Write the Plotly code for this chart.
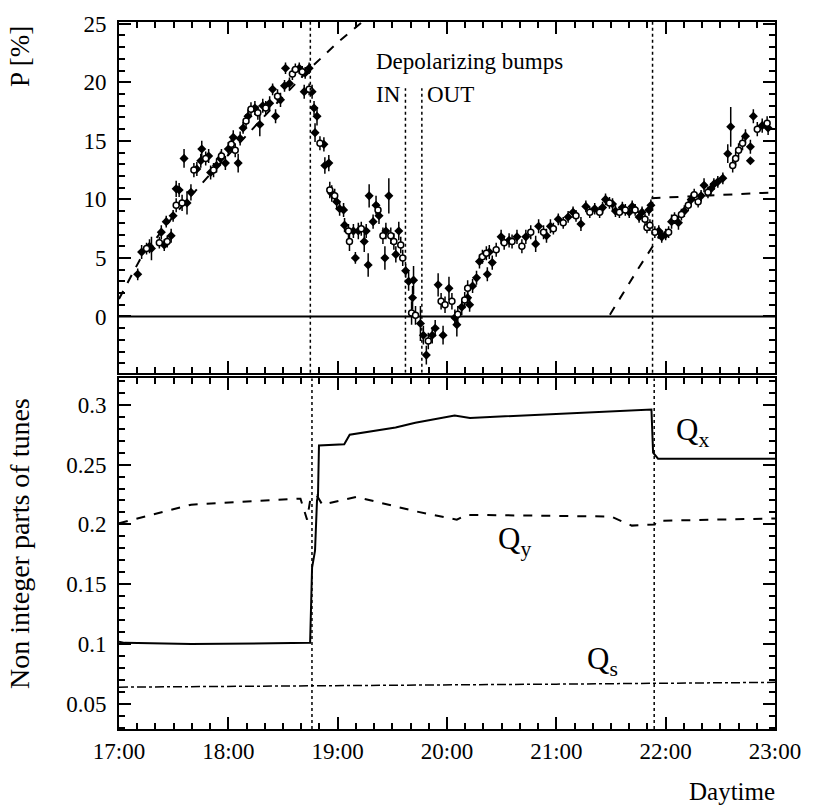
import plotly.graph_objects as go

# ---------------- data ----------------
# Polarization measurements: (daytime in hours, P [%], error)
p_filled = [
    (17.171, 3.6, 0.5), (17.207, 5.5, 0.6), (17.279, 6.0, 0.6), (17.297, 5.8, 1.0),
    (17.387, 7.2, 0.6), (17.414, 6.1, 0.5), (17.477, 6.9, 0.6), (17.432, 8.1, 0.5),
    (17.495, 8.6, 0.5), (17.523, 10.9, 0.7), (17.550, 10.8, 0.6), (17.595, 13.5, 0.8),
    (17.622, 9.7, 1.0), (17.658, 10.6, 0.7), (17.712, 12.6, 0.6), (17.748, 13.3, 0.6),
    (17.757, 14.3, 0.7), (17.820, 13.7, 0.6), (17.838, 12.3, 0.6), (17.892, 12.9, 0.6),
    (17.928, 13.5, 0.6), (17.973, 13.1, 0.6), (18.000, 14.3, 0.6), (18.045, 15.3, 0.6),
    (18.090, 13.1, 0.8), (18.108, 15.2, 0.6), (18.135, 16.1, 0.5), (18.180, 17.1, 0.6),
    (18.243, 17.8, 0.6), (18.288, 16.4, 1.0), (18.315, 18.0, 0.6), (18.378, 18.2, 0.6),
    (18.405, 19.4, 0.5), (18.432, 17.1, 0.6), (18.477, 18.5, 0.6), (18.514, 19.7, 0.5),
    (18.523, 21.2, 0.5), (18.559, 19.9, 0.5), (18.649, 21.2, 0.5), (18.703, 20.8, 0.5),
    (18.739, 21.2, 0.5), (18.694, 19.2, 0.6), (18.766, 19.2, 0.6), (18.784, 17.8, 0.6),
    (18.811, 17.1, 0.8), (18.793, 15.7, 0.8), (18.874, 14.7, 0.6), (18.883, 12.9, 0.7),
    (18.919, 13.1, 0.7), (18.946, 10.5, 0.7), (18.991, 9.8, 0.6), (19.018, 9.2, 0.6),
    (19.054, 9.1, 0.6), (19.063, 7.8, 0.6), (19.144, 7.3, 0.6), (19.162, 5.0, 0.5),
    (19.189, 7.3, 0.7), (19.243, 6.4, 0.9), (19.279, 4.4, 1.0), (19.261, 7.3, 0.6),
    (19.288, 10.3, 1.0), (19.324, 8.1, 0.6), (19.351, 9.5, 0.8), (19.378, 8.6, 0.7),
    (19.432, 5.0, 1.0), (19.441, 7.3, 0.7), (19.468, 10.3, 1.5), (19.532, 5.3, 0.7),
    (19.559, 7.3, 0.8), (19.622, 3.9, 0.6), (19.649, 3.0, 0.8), (19.694, 3.1, 1.2),
    (19.685, 1.6, 1.0), (19.757, -0.6, 1.5), (19.784, -1.6, 0.8), (19.811, -3.3, 0.8),
    (19.865, -1.6, 0.7), (19.892, -1.0, 0.7), (19.919, 2.7, 1.0), (19.964, -1.6, 0.8),
    (20.018, 2.4, 1.0), (20.072, -0.1, 0.7), (20.090, -0.7, 1.0), (20.135, 0.8, 0.7),
    (20.189, 1.6, 0.7), (20.207, 1.0, 0.6), (20.234, 2.6, 0.6), (20.270, 3.3, 0.6),
    (20.297, 4.7, 0.6), (20.369, 3.6, 0.6), (20.387, 5.5, 0.6), (20.414, 4.6, 0.6),
    (20.495, 6.8, 0.6), (20.568, 6.5, 0.6), (20.640, 6.8, 0.6), (20.721, 6.8, 0.6),
    (20.811, 6.2, 0.7), (20.838, 7.7, 0.6), (20.946, 7.7, 0.6), (20.910, 6.9, 0.6),
    (21.018, 8.3, 0.5), (21.108, 8.5, 0.5), (21.153, 8.9, 0.5), (21.225, 7.9, 0.6),
    (21.270, 9.4, 0.5), (21.351, 9.2, 0.5), (21.423, 9.3, 0.5), (21.450, 10.0, 0.5),
    (21.514, 9.6, 0.5), (21.541, 9.0, 0.5), (21.604, 9.3, 0.5), (21.667, 8.9, 0.5),
    (21.694, 9.4, 0.5), (21.757, 8.5, 0.5), (21.784, 8.9, 0.5), (21.847, 9.1, 0.5),
    (21.865, 9.5, 0.5), (21.937, 7.3, 0.5), (21.964, 6.8, 0.5), (22.000, 7.0, 0.5),
    (22.054, 8.1, 0.6), (22.117, 8.0, 0.6), (22.171, 9.0, 0.5), (22.234, 10.0, 0.5),
    (22.324, 10.3, 0.5), (22.351, 11.2, 0.6), (22.414, 10.9, 0.5), (22.441, 11.3, 0.5),
    (22.477, 11.5, 0.5), (22.523, 11.8, 0.5), (22.568, 13.9, 0.8), (22.595, 16.2, 1.7),
    (22.730, 15.4, 0.6), (22.775, 13.3, 0.0), (22.775, 14.5, 0.6), (22.802, 17.1, 0.6),
    (22.883, 16.3, 0.6), (22.937, 16.1, 0.6),
]
p_open = [
    (17.252, 5.8, 0.5), (17.369, 6.3, 0.5), (17.441, 6.4, 0.5), (17.523, 9.5, 0.6),
    (17.577, 9.7, 0.7), (17.685, 12.5, 0.6), (17.793, 13.5, 0.6), (17.865, 12.5, 0.6),
    (17.937, 13.7, 0.6), (18.027, 14.7, 0.6), (18.063, 14.2, 0.6), (18.162, 16.7, 0.6),
    (18.207, 17.7, 0.6), (18.270, 17.4, 0.6), (18.342, 17.8, 0.6), (18.450, 18.8, 0.6),
    (18.586, 20.7, 0.5), (18.613, 21.1, 0.5), (18.676, 20.9, 0.5), (18.739, 19.4, 0.5),
    (18.838, 14.8, 0.6), (18.928, 10.8, 0.7), (18.973, 10.3, 0.6), (19.099, 7.3, 0.6),
    (19.108, 6.4, 0.8), (19.216, 7.5, 0.6), (19.369, 9.1, 0.6), (19.414, 6.9, 0.7),
    (19.486, 6.9, 0.7), (19.514, 6.4, 0.7), (19.577, 6.1, 0.7), (19.595, 5.0, 0.7),
    (19.676, 0.3, 1.0), (19.712, 0.1, 0.8), (19.829, -2.1, 0.7), (19.946, 1.3, 0.7),
    (19.982, 1.0, 0.7), (20.045, 1.3, 0.7), (20.099, 0.2, 0.7), (20.162, 1.4, 0.7),
    (20.189, 2.4, 0.7), (20.324, 5.1, 0.6), (20.360, 5.4, 0.6), (20.450, 5.7, 0.6),
    (20.523, 6.3, 0.6), (20.595, 6.4, 0.6), (20.685, 6.0, 0.6), (20.766, 7.2, 0.6),
    (20.883, 7.2, 0.6), (20.973, 7.5, 0.5), (21.063, 8.0, 0.5), (21.180, 8.6, 0.5),
    (21.306, 8.9, 0.5), (21.396, 8.9, 0.5), (21.486, 9.7, 0.5), (21.577, 8.9, 0.5),
    (21.631, 9.1, 0.5), (21.721, 9.1, 0.5), (21.811, 8.3, 0.5), (21.829, 7.6, 0.5),
    (21.856, 7.8, 0.5), (21.901, 7.2, 0.5), (22.027, 7.2, 0.5), (22.081, 8.4, 0.5),
    (22.144, 8.7, 0.5), (22.207, 9.5, 0.5), (22.261, 10.4, 0.5), (22.297, 9.8, 0.5),
    (22.387, 10.6, 0.5), (22.613, 12.9, 0.6), (22.640, 13.5, 0.6), (22.667, 14.2, 0.6),
    (22.703, 14.8, 0.6), (22.838, 16.0, 0.6), (22.928, 16.5, 0.6),
]

# Fitted build-up curves (dashed)
fit1_t = [17.0, 17.2, 17.5, 17.8, 18.1, 18.4, 18.75, 19.0, 19.23]
fit1_p = [1.5, 5.0, 8.6, 11.8, 14.8, 17.8, 21.2, 23.4, 25.2]
fit2_t = [21.49, 21.75, 21.98]
fit2_p = [0.15, 4.1, 7.4]
fit3_t = [21.87, 22.2, 22.5, 22.75, 23.0]
fit3_p = [10.1, 10.25, 10.4, 10.5, 10.6]
zero_t = [17.0, 23.0]
zero_p = [0.0, 0.0]

# Tunes
qx_t = [17.0, 17.05, 17.66, 18.748, 18.766, 18.793, 18.811, 18.82, 18.829, 19.06, 19.11,
        19.53, 19.71, 20.07, 20.21, 21.87, 21.885, 21.93, 23.0]
qx_v = [0.102, 0.101, 0.100, 0.101, 0.164, 0.178, 0.220, 0.224, 0.266, 0.267, 0.275,
        0.281, 0.285, 0.291, 0.289, 0.296, 0.260, 0.255, 0.255]
qy_t = [17.0, 17.66, 18.63, 18.66, 18.72, 18.75, 18.81, 18.86, 19.17, 19.53, 19.71,
        20.09, 20.18, 21.5, 21.69, 21.9, 21.92, 23.0]
qy_v = [0.201, 0.2165, 0.2215, 0.2215, 0.204, 0.221, 0.224, 0.2165, 0.223, 0.215, 0.211,
        0.204, 0.208, 0.2066, 0.199, 0.200, 0.203, 0.205]
qs_t = [17.0, 19.0, 21.0, 23.0]
qs_v = [0.064, 0.065, 0.0665, 0.068]

# Markers of the depolarizing-bump times and tune changes
vline_full = [18.75, 21.88]
vline_bumps = [19.62, 19.77]

x_tickvals = [17, 18, 19, 20, 21, 22, 23]
x_ticktext = ["17:00", "18:00", "19:00", "20:00", "21:00", "22:00", "23:00"]
p_tickvals = [0, 5, 10, 15, 20, 25]
q_tickvals = [0.05, 0.1, 0.15, 0.2, 0.25, 0.3]
q_ticktext = ["0.05", "0.1", "0.15", "0.2", "0.25", "0.3"]

# ---------------- figure ----------------
FONT = "Liberation Serif, Times New Roman, serif"
BLACK = "black"

fig = go.Figure()

def col(rows, i):
    return [r[i] for r in rows]

fig.add_trace(go.Scatter(x=zero_t, y=zero_p, mode="lines", xaxis="x", yaxis="y",
                         line=dict(color=BLACK, width=2), showlegend=False))
for ft, fp in [(fit1_t, fit1_p), (fit2_t, fit2_p), (fit3_t, fit3_p)]:
    fig.add_trace(go.Scatter(x=ft, y=fp, mode="lines", xaxis="x", yaxis="y",
                             line=dict(color=BLACK, width=2, dash="dash"), showlegend=False))

fig.add_trace(go.Scatter(
    x=col(p_filled, 0), y=col(p_filled, 1), mode="markers", xaxis="x", yaxis="y",
    marker=dict(symbol="diamond", size=7, color=BLACK),
    error_y=dict(type="data", array=col(p_filled, 2), color=BLACK, thickness=1.5, width=0),
    showlegend=False))
fig.add_trace(go.Scatter(
    x=col(p_open, 0), y=col(p_open, 1), mode="markers", xaxis="x", yaxis="y",
    marker=dict(symbol="circle", size=6, color="white", line=dict(color=BLACK, width=1.5)),
    error_y=dict(type="data", array=col(p_open, 2), color=BLACK, thickness=1.5, width=0),
    showlegend=False))

fig.add_trace(go.Scatter(x=qx_t, y=qx_v, mode="lines", xaxis="x2", yaxis="y2",
                         line=dict(color=BLACK, width=2), showlegend=False))
fig.add_trace(go.Scatter(x=qy_t, y=qy_v, mode="lines", xaxis="x2", yaxis="y2",
                         line=dict(color=BLACK, width=2, dash="dash"), showlegend=False))
fig.add_trace(go.Scatter(x=qs_t, y=qs_v, mode="lines", xaxis="x2", yaxis="y2",
                         line=dict(color=BLACK, width=1.5, dash="dashdot"), showlegend=False))

shapes = []
for v in vline_full:
    shapes.append(dict(type="line", xref="x", yref="y domain", x0=v, x1=v, y0=0, y1=1,
                       line=dict(color=BLACK, width=1.5, dash="dot")))
    shapes.append(dict(type="line", xref="x2", yref="y2 domain", x0=v + 0.015, x1=v + 0.015,
                       y0=0, y1=1, line=dict(color=BLACK, width=1.5, dash="dot")))
for v in vline_bumps:
    shapes.append(dict(type="line", xref="x", yref="y", x0=v, x1=v, y0=-4.8, y1=19.5,
                       line=dict(color=BLACK, width=1.5, dash="dot")))

axis_common = dict(
    showline=True, linewidth=2, linecolor=BLACK, mirror="ticks",
    ticks="inside", ticklen=12, tickwidth=1.5, tickcolor=BLACK,
    showgrid=False, zeroline=False,
    tickfont=dict(family=FONT, size=23, color=BLACK),
)

fig.update_layout(
    width=813, height=809,
    margin=dict(l=119, r=30, t=15, b=80),
    paper_bgcolor="white", plot_bgcolor="white",
    font=dict(family=FONT, color=BLACK),
    xaxis=dict(domain=[0, 1], anchor="y", range=[17, 23], tickvals=x_tickvals,
               showticklabels=False,
               minor=dict(dtick=1/6, tick0=17, ticks="inside", ticklen=6, tickwidth=1.5,
                          tickcolor=BLACK),
               **axis_common),
    yaxis=dict(domain=[0.504, 1], anchor="x", range=[-4.8, 25.15], tickvals=p_tickvals,
               ticklabelstandoff=6,
               minor=dict(dtick=1, tick0=0, ticks="inside", ticklen=6, tickwidth=1.5,
                          tickcolor=BLACK),
               **axis_common),
    xaxis2=dict(domain=[0, 1], anchor="y2", range=[17, 23], tickvals=x_tickvals,
                ticktext=x_ticktext,
                minor=dict(dtick=1/6, tick0=17, ticks="inside", ticklen=6, tickwidth=1.5,
                           tickcolor=BLACK),
                **axis_common),
    yaxis2=dict(domain=[0, 0.4958], anchor="x2", range=[0.029, 0.322], tickvals=q_tickvals,
                ticktext=q_ticktext, ticklabelstandoff=6,
                minor=dict(dtick=0.01, tick0=0, ticks="inside", ticklen=6, tickwidth=1.5,
                           tickcolor=BLACK),
                **axis_common),
    shapes=shapes,
)

ann_font = dict(family=FONT, size=23, color=BLACK)
annotations = [
    dict(text="Depolarizing bumps", x=19.333, y=21.8, xref="x", yref="y",
         xanchor="left", yanchor="middle", showarrow=False, font=ann_font),
    dict(text="IN", x=19.333, y=19.0, xref="x", yref="y",
         xanchor="left", yanchor="middle", showarrow=False, font=ann_font),
    dict(text="OUT", x=19.8, y=19.0, xref="x", yref="y",
         xanchor="left", yanchor="middle", showarrow=False, font=ann_font),
    dict(text="Q<sub>x</sub>", x=22.08, y=0.2769, xref="x2", yref="y2",
         xanchor="left", yanchor="middle", showarrow=False,
         font=dict(family=FONT, size=31, color=BLACK)),
    dict(text="Q<sub>y</sub>", x=20.45, y=0.186, xref="x2", yref="y2",
         xanchor="left", yanchor="middle", showarrow=False,
         font=dict(family=FONT, size=31, color=BLACK)),
    dict(text="Q<sub>s</sub>", x=21.26, y=0.0855, xref="x2", yref="y2",
         xanchor="left", yanchor="middle", showarrow=False,
         font=dict(family=FONT, size=31, color=BLACK)),
    dict(text="P [%]", x=-0.152, y=0.951, xref="paper", yref="paper", textangle=-90,
         xanchor="center", yanchor="middle", showarrow=False,
         font=dict(family=FONT, size=27, color=BLACK)),
    dict(text="Non integer parts of tunes", x=-0.152, y=0.262, xref="paper", yref="paper",
         textangle=-90, xanchor="center", yanchor="middle", showarrow=False,
         font=dict(family=FONT, size=28, color=BLACK)),
    dict(text="Daytime", x=0.935, y=-0.088, xref="paper", yref="paper",
         xanchor="center", yanchor="middle", showarrow=False,
         font=dict(family=FONT, size=25, color=BLACK)),
]
fig.update_layout(annotations=annotations)

fig.write_html("out.html")
